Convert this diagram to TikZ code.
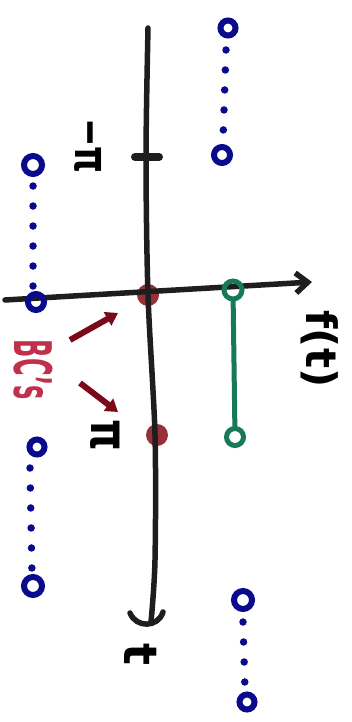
\documentclass[tikz,border=0pt]{standalone}
\usepackage{fontspec}
\setmainfont{DejaVu Sans}
\usetikzlibrary{arrows.meta}
\definecolor{ink}{HTML}{1E1E1E}
\definecolor{navy}{HTML}{0A0A8C}
\definecolor{mint}{HTML}{18785A}
\definecolor{wine}{HTML}{7A0A18}
\definecolor{rose}{HTML}{C0304A}
\definecolor{dotred}{HTML}{8C1A24}
\tikzset{
  axisline/.style={ink, line width=5.5pt, line cap=round},
  dotline/.style={navy, line width=7.5pt, line cap=round, dash pattern=on 0pt off 20pt},
  hollow/.style={navy, line width=6pt},
  greenline/.style={mint, line width=5pt, line cap=round},
  pointer/.style={wine, line width=6pt, -{Triangle[length=12pt,width=15pt]}},
  redspot/.style={fill=dotred, opacity=0.9},
  lbl/.style={rotate=-90, inner sep=0pt},
  fsz/.style={font=\bfseries\fontsize{#1}{#1}\selectfont},
}
\begin{document}
\begin{tikzpicture}[x=1pt,y=-1pt]
\useasboundingbox (0,0) rectangle (351,722);

% boundary points
\fill[redspot] (148,295) circle (11);
\fill[redspot] (157,435) circle (11);

% vertical axis with its hand-drawn tip
\draw[axisline] plot[smooth] coordinates {(148,28) (146,157) (148,295) (155,435) (155,560) (151,622)};
\draw[axisline] (130,613) .. controls (136,628) and (158,628) .. (163,612);
\coordinate (tick) at (146,157);
\draw[axisline, line width=8pt] ([xshift=-11pt]tick) -- ([xshift=13pt]tick);

% horizontal axis
\coordinate (h0) at (5,300);
\coordinate (h1) at (312,282);
\draw[axisline, -{Straight Barb[length=12pt,width=20pt,line width=5.5pt]}] (h0) -- (h1);

% green segment
\node[circle, draw=mint, line width=5pt, minimum size=18pt, inner sep=0pt] (g1) at (233,290) {};
\node[circle, draw=mint, line width=5pt, minimum size=17pt, inner sep=0pt] (g2) at (235,437) {};
\draw[greenline] (g1) -- (g2);

% blue dotted copies
\draw[hollow] (228,28) circle (7.5);
\draw[dotline] (226,50) -- (223,140);
\draw[hollow] (222,155) circle (8);

\draw[hollow] (33,165) circle (9);
\draw[dotline] (33,186) -- (33,290);
\draw[hollow] (36,302) circle (8);

\draw[hollow] (37,447) circle (7.5);
\draw[dotline] (30,468) -- (32,575);
\draw[hollow] (33,586) circle (9);

\draw[hollow] (243,600) circle (9);
\draw[dotline] (243,622) -- (245,690);
\draw[hollow] (247,702) circle (7.5);

% pointers to the boundary points
\coordinate (p1s) at (70,340);
\coordinate (p1e) at (118,313);
\coordinate (p2s) at (80,383);
\coordinate (p2e) at (118,412);
\draw[pointer] (p1s) -- (p1e);
\draw[pointer] (p2s) -- (p2e);

% labels
\node[lbl, fsz=34, yscale=1.4] (mpi) at (88,146) {−π};
\node[lbl, fsz=40, yscale=1.3] (pi) at (105,435) {π};
\node[lbl, fsz=42] (ft) at (320,349) {f(t)};
\node[lbl, fsz=46] (t) at (141,654) {t};
\node[lbl, fsz=48, xscale=0.5, yscale=1.08, rose] (bc) at (33,370) {BC's};
\end{tikzpicture}
\end{document}
